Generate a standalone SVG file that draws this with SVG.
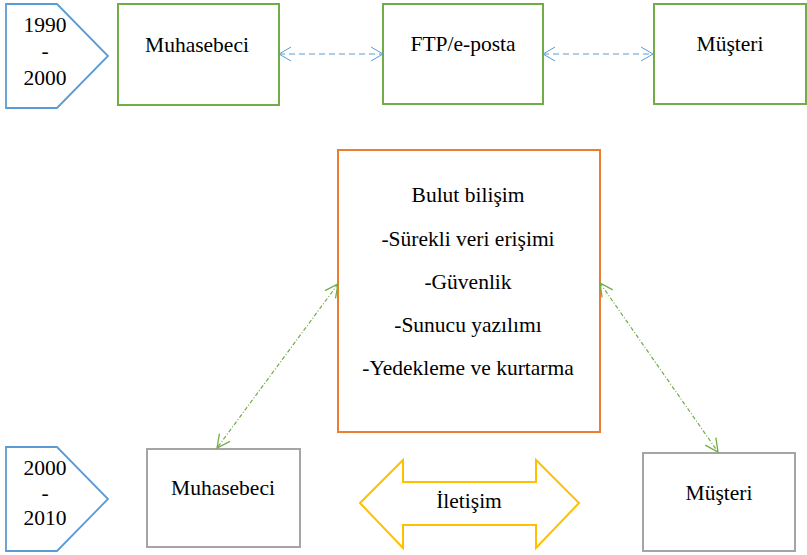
<svg xmlns="http://www.w3.org/2000/svg" width="807" height="555" viewBox="0 0 807 555">
<style>
text{font-size:21.5px;fill:#000;text-anchor:middle}
.era{fill:#fff;stroke:#5B9BD5;stroke-width:1.8}
.g{fill:#fff;stroke:#70AD47;stroke-width:2}
.gr{fill:#fff;stroke:#A5A5A5;stroke-width:2}
.or{fill:#fff;stroke:#ED7D31;stroke-width:2}
.yl{fill:#fff;stroke:#FFC000;stroke-width:2}
.bl{fill:none;stroke:#5B9BD5;stroke-width:1;stroke-dasharray:6 4;marker-start:url(#ab);marker-end:url(#ab)}
.gd{fill:none;stroke:#70AD47;stroke-width:1.2;stroke-dasharray:4 2 1 2;marker-start:url(#ag);marker-end:url(#ag)}
</style>
<defs>
<marker id="ab" viewBox="0 0 14 16" refX="13" refY="8" markerWidth="14" markerHeight="16" markerUnits="userSpaceOnUse" orient="auto-start-reverse">
<path d="M1,1 L13,8 L1,15" fill="none" stroke="#5B9BD5" stroke-width="1"/>
</marker>
<marker id="ag" viewBox="0 0 15 16" refX="14" refY="8" markerWidth="15" markerHeight="16" markerUnits="userSpaceOnUse" orient="auto-start-reverse">
<path d="M1,1.5 L14,8 L1,14.5" fill="none" stroke="#70AD47" stroke-width="1.3"/>
</marker>
</defs>
<g font-family="'Liberation Serif', 'DejaVu Serif', serif">
<g id="era1">
<polygon class="era" points="6,4 57,4 108,56 57,108 6,108"/>
<text x="45" y="32">1990</text>
<text x="45" y="58">-</text>
<text x="45" y="85">2000</text>
</g>
<g id="muhasebeci1">
<rect class="g" x="118" y="4" width="161" height="101"/>
<text x="197" y="52">Muhasebeci</text>
</g>
<g id="ftp">
<rect class="g" x="383" y="4" width="160" height="100"/>
<text x="463" y="51">FTP/e-posta</text>
</g>
<g id="musteri1">
<rect class="g" x="654" y="4" width="152" height="100"/>
<text x="730" y="51">Müşteri</text>
</g>
<g id="bulut">
<rect class="or" x="338" y="150" width="262" height="282"/>
<text x="468" y="202">Bulut bilişim</text>
<text x="468" y="246">-Sürekli veri erişimi</text>
<text x="468" y="289">-Güvenlik</text>
<text x="468" y="332">-Sunucu yazılımı</text>
<text x="468" y="375">-Yedekleme ve kurtarma</text>
</g>
<g id="era2">
<polygon class="era" points="6,447 57,447 108,499 57,551 6,551"/>
<text x="45" y="475">2000</text>
<text x="45" y="500">-</text>
<text x="45" y="525">2010</text>
</g>
<g id="muhasebeci2">
<rect class="gr" x="147" y="449" width="153" height="98"/>
<text x="223" y="495">Muhasebeci</text>
</g>
<g id="musteri2">
<rect class="gr" x="643" y="453" width="152" height="98"/>
<text x="719" y="500">Müşteri</text>
</g>
<g id="iletisim">
<polygon class="yl" points="360,503 403,460 403,482 536,482 536,460 579,503 536,548 536,525 403,525 403,548"/>
<text x="469" y="508">İletişim</text>
</g>
</g>
<g id="connectors">
<line class="bl" x1="279" y1="54" x2="383" y2="54"/>
<line class="bl" x1="543" y1="54" x2="653" y2="54"/>
<line class="gd" x1="338" y1="284" x2="217" y2="448"/>
<line class="gd" x1="600" y1="283" x2="718" y2="452"/>
</g>
</svg>
